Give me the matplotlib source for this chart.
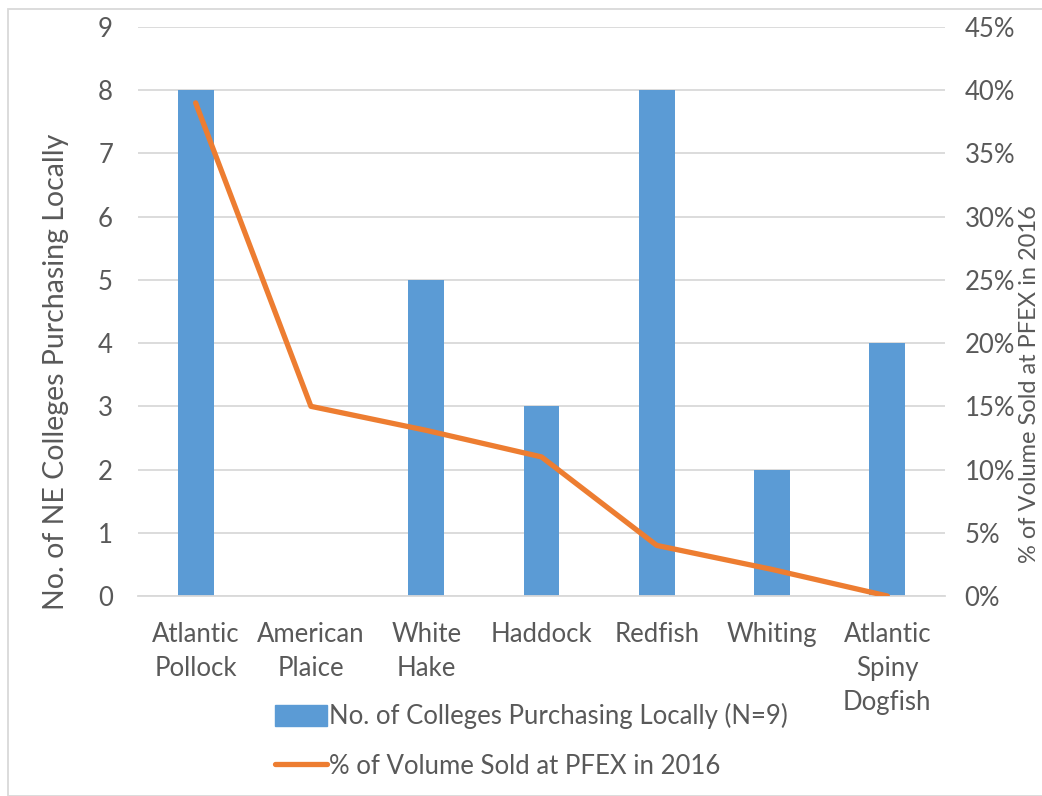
import matplotlib
matplotlib.use("Agg")
import matplotlib.pyplot as plt
from matplotlib.patches import Rectangle
from matplotlib.lines import Line2D
from matplotlib.ticker import FuncFormatter

categories = ["Atlantic\nPollock", "American\nPlaice", "White\nHake", "Haddock",
              "Redfish", "Whiting", "Atlantic\nSpiny\nDogfish"]
colleges = [8, 0, 5, 3, 8, 2, 4]
pct_volume = [0.39, 0.15, 0.131, 0.11, 0.04, 0.021, 0.0]

bar_color = "#5B9BD5"
line_color = "#ED7D31"
text_color = "#595959"
grid_color = "#D9D9D9"

plt.rcParams['font.family'] = ['Lato', 'DejaVu Sans']

fig = plt.figure(figsize=(10.42, 7.96), dpi=100)
ax = fig.add_axes([138/1042, 1 - 596/796, (945-138)/1042, (596-27)/796])
ax2 = ax.twinx()

x = list(range(len(categories)))
ax.bar(x, colleges, width=0.31, color=bar_color, zorder=2)
ax.set_ylim(0, 9)
ax.set_xlim(-0.5, len(categories) - 0.5)
ax.set_yticks(range(0, 10))
ax.yaxis.grid(True, color=grid_color, linewidth=1.3, zorder=0)
ax.set_axisbelow(True)

ax2.plot(x, pct_volume, color=line_color, linewidth=3.8, solid_capstyle='round', zorder=3)
ax2.set_ylim(0, 0.45)
ax2.set_yticks([i * 0.05 for i in range(10)])
ax2.yaxis.set_major_formatter(FuncFormatter(lambda v, p: f"{round(v*100)}%"))

for a in (ax, ax2):
    for s in a.spines.values():
        s.set_visible(False)
    a.tick_params(length=0, colors=text_color, labelsize=18.5)
ax.spines['bottom'].set_visible(True)
ax.spines['bottom'].set_color(grid_color)
ax.spines['bottom'].set_linewidth(1.3)

ax.set_xticks(x)
ax.set_xticklabels(categories, fontsize=18.5, color=text_color, linespacing=1.45)
ax.tick_params(axis='x', pad=19)
ax.tick_params(axis='y', pad=18)
ax2.tick_params(axis='y', pad=14)

ax.set_ylabel("No. of NE Colleges Purchasing Locally", fontsize=20.5, color=text_color)
ax.yaxis.set_label_coords(-0.085, 0.394)
ax2.set_ylabel("% of Volume Sold at PFEX in 2016", fontsize=17, color=text_color,
               rotation=90)
ax2.yaxis.set_label_coords(1.092, 0.372)

handles = [Rectangle((0, 0), 1, 1, color=bar_color),
           Line2D([0], [0], color=line_color, linewidth=3.8, solid_capstyle='round')]
labels = ["No. of Colleges Purchasing Locally (N=9)", "% of Volume Sold at PFEX in 2016"]
leg = fig.legend(handles, labels, loc='upper left', bbox_to_anchor=(252/1042, 1 - 680/796),
                 frameon=False, fontsize=18.5, labelcolor=text_color, handlelength=2.0,
                 handleheight=0.9, handletextpad=0.1, labelspacing=0.95)

# outer border
fig.patches.append(Rectangle((8/1042, 0), 1, 1 - 9/796, transform=fig.transFigure,
                             fill=False, edgecolor="#D9D9D9", linewidth=1.3))

fig.savefig("out.png", dpi=100)
